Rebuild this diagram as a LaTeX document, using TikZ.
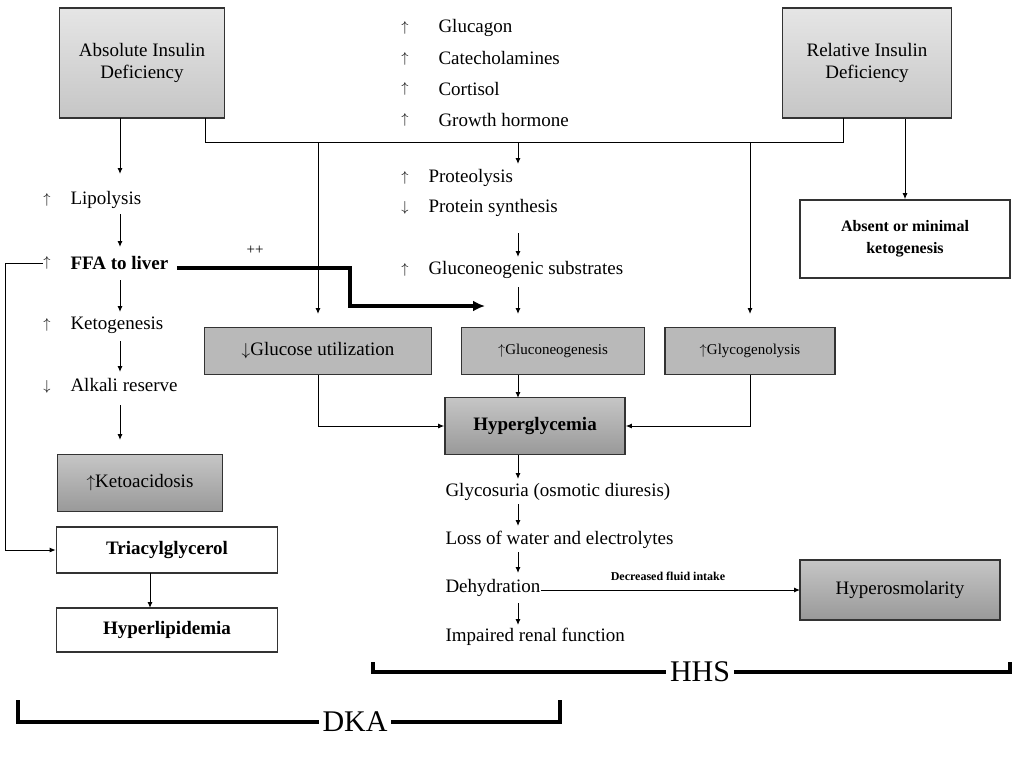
\documentclass[tikz,border=0pt]{standalone}
\usepackage{fontspec}
\setmainfont{Liberation Serif}
\usetikzlibrary{arrows.meta,positioning}
\tikzset{
  box/.style={draw=black!80, line width=1.6pt, align=center, inner sep=0pt},
  lite/.style={box, top color=gray!20, bottom color=gray!45},
  mid/.style={box, fill=gray!55},
  dark/.style={box, top color=gray!45, bottom color=gray!80},
  plain/.style={box, fill=white},
  txt/.style={anchor=west, inner sep=0pt, font=\fontsize{19}{22}\selectfont},
  sgn/.style={inner sep=0pt, font=\fontsize{15}{15}\selectfont},
  arr/.style={-{Latex[length=6pt,width=5pt]}, line width=1pt}
}
\newcommand{\linkx}[3][arr]{%
	\foreach \x in {#2} { %
		\foreach \y in {#3} { %
			\draw[#1] (\x) -- (\y) ;%
		} ;
	} ;
}
\begin{document}
\begin{tikzpicture}[x=1pt, y=-1pt, line width=1pt,
				every node/.style={font=\fontsize{19}{22}\selectfont}]
				\useasboundingbox (0,0) rectangle (1024,768);
				
				% boxes
				\node[lite, minimum width=165pt, minimum height=110pt] (absins) at (142,63) {Absolute Insulin\\Deficiency};
				\node[lite, minimum width=169pt, minimum height=110pt] (relins) at (867,63) {Relative Insulin\\Deficiency};
				\node[plain, minimum width=210pt, minimum height=78pt, font=\fontsize{16}{22}\selectfont\bfseries] (absent) at (905,239) {Absent or minimal\\ketogenesis};
				\node[mid, minimum width=227pt, minimum height=47pt] (gluut) at (318,351) {$\downarrow$Glucose utilization};
				\node[mid, minimum width=183pt, minimum height=47pt, font=\fontsize{15}{18}\selectfont] (gneo) at (553,351) {$\uparrow$Gluconeogenesis};
				\node[mid, minimum width=170pt, minimum height=47pt, font=\fontsize{15}{18}\selectfont] (glyco) at (750,351) {$\uparrow$Glycogenolysis};
				\node[dark, minimum width=180pt, minimum height=57pt, font=\fontsize{19}{22}\selectfont\bfseries] (hyper) at (535,426) {Hyperglycemia};
				\node[dark, minimum width=165pt, minimum height=57pt] (keto) at (140,483) {$\uparrow$Ketoacidosis};
				\node[plain, minimum width=221pt, minimum height=46pt, font=\fontsize{19}{22}\selectfont\bfseries] (triacyl) at (167,550) {Triacylglycerol};
				\node[plain, minimum width=221pt, minimum height=44pt, font=\fontsize{19}{22}\selectfont\bfseries] (hlipid) at (167,630) {Hyperlipidemia};
				\node[dark, minimum width=200pt, minimum height=60pt] (hosm) at (900,590) {Hyperosmolarity};
				
				% hormone list
				\foreach \t/\s [count=\i] in {Glucagon/\uparrow, Catecholamines/\uparrow, Cortisol/\uparrow, Growth hormone/\uparrow} {
					\node[sgn] (hs\i) at (405,{28+30.5*(\i-1)}) {$\s$};
					\node[txt] (h\i) at (438,{28+30.5*(\i-1)}) {\t};
				}
				\node[sgn] (sprot) at (405,178) {$\uparrow$};
				\node[txt] (prot) at (428,178) {Proteolysis};
				\node[sgn] (ssyn) at (405,208) {$\downarrow$};
				\node[txt] (syn) at (428,208) {Protein synthesis};
				\node[sgn] (ssub) at (405,270) {$\uparrow$};
				\node[txt] (subs) at (428,270) {Gluconeogenic substrates};
				
				% left column
				\node[sgn] (slip) at (47,200) {$\uparrow$};
				\node[txt] (lipo) at (70,200) {Lipolysis};
				\node[sgn] (sffa) at (47,263) {$\uparrow$};
				\node[txt, font=\fontsize{19}{22}\selectfont\bfseries] (ffa) at (70,263) {FFA to liver};
				\node[sgn] (sket) at (47,325) {$\uparrow$};
				\node[txt] (ketog) at (70,325) {Ketogenesis};
				\node[sgn] (salk) at (47,387) {$\downarrow$};
				\node[txt] (alk) at (70,385) {Alkali reserve};
				\node[font=\fontsize{15}{18}\selectfont] (pp) at (255,250) {++};
				
				% hhs column
				\node[txt] (gsur) at (445,492) {Glycosuria (osmotic diuresis)};
				\node[txt] (loss) at (445,540) {Loss of water and electrolytes};
				\node[txt] (dehy) at (445,588) {Dehydration};
				\node[txt] (renal) at (445,637) {Impaired renal function};
				\node[font=\fontsize{12}{14}\selectfont\bfseries] (fluid) at (668,576) {Decreased fluid intake};
				
				% brackets
				\node[font=\fontsize{30}{32}\selectfont] (hhs) at (700,672) {HHS};
				\node[font=\fontsize{30}{32}\selectfont] (dka) at (355,722) {DKA};
				
				% edges
				\draw (205,118) |- (843,142) -- (843,118);
				\draw[arr] (318,142) -- (318,314);
				\draw[arr] (750,142) -- (750,314);
				\draw[arr] (518,142) -- (518,164);
				\draw[arr] (518,233) -- (518,257);
				\draw[arr] (518,287) -- (518,314);
				\draw[arr] (relins.south -| absent.north) -- (absent.north);
				\draw[arr] (120,118) -- (120,174);
				\draw[arr] (120,214) -- (120,247);
				\draw[arr] (120,280) -- (120,312);
				\draw[arr] (120,341) -- (120,372);
				\draw[arr] (120,405) -- (120,440);
				\draw[arr] (150,573) -- (150,608);
				\draw[arr] (sffa.west) -- (5,263) |- (triacyl.west);
				\draw[line width=4pt, -{Latex[length=12pt,width=11pt]}] (ffa.east) ++(8,5) -| (350,306) -- (485,306);
				\draw[arr] (518,375) -- (518,398);
				\draw[arr] (gluut.south) |- (hyper.west);
				\draw[arr] (glyco.south) |- (hyper.east);
				\draw[arr] (518,455) -- (518,479);
				\draw[arr] (518,504) -- (518,526);
				\draw[arr] (518,552) -- (518,573);
				\draw[arr] (518,603) -- (518,625);
				\draw[arr] (dehy.east) ++(0,2) -- (800,590);
				\draw[line width=3.5pt] (373,662) |- (hhs.west);
				\draw[line width=3.5pt] (hhs.east) -| (1010,662);
				\draw[line width=3.5pt] (18,700) |- (dka.west);
				\draw[line width=3.5pt] (dka.east) -| (560,700);
\end{tikzpicture}
\end{document}
